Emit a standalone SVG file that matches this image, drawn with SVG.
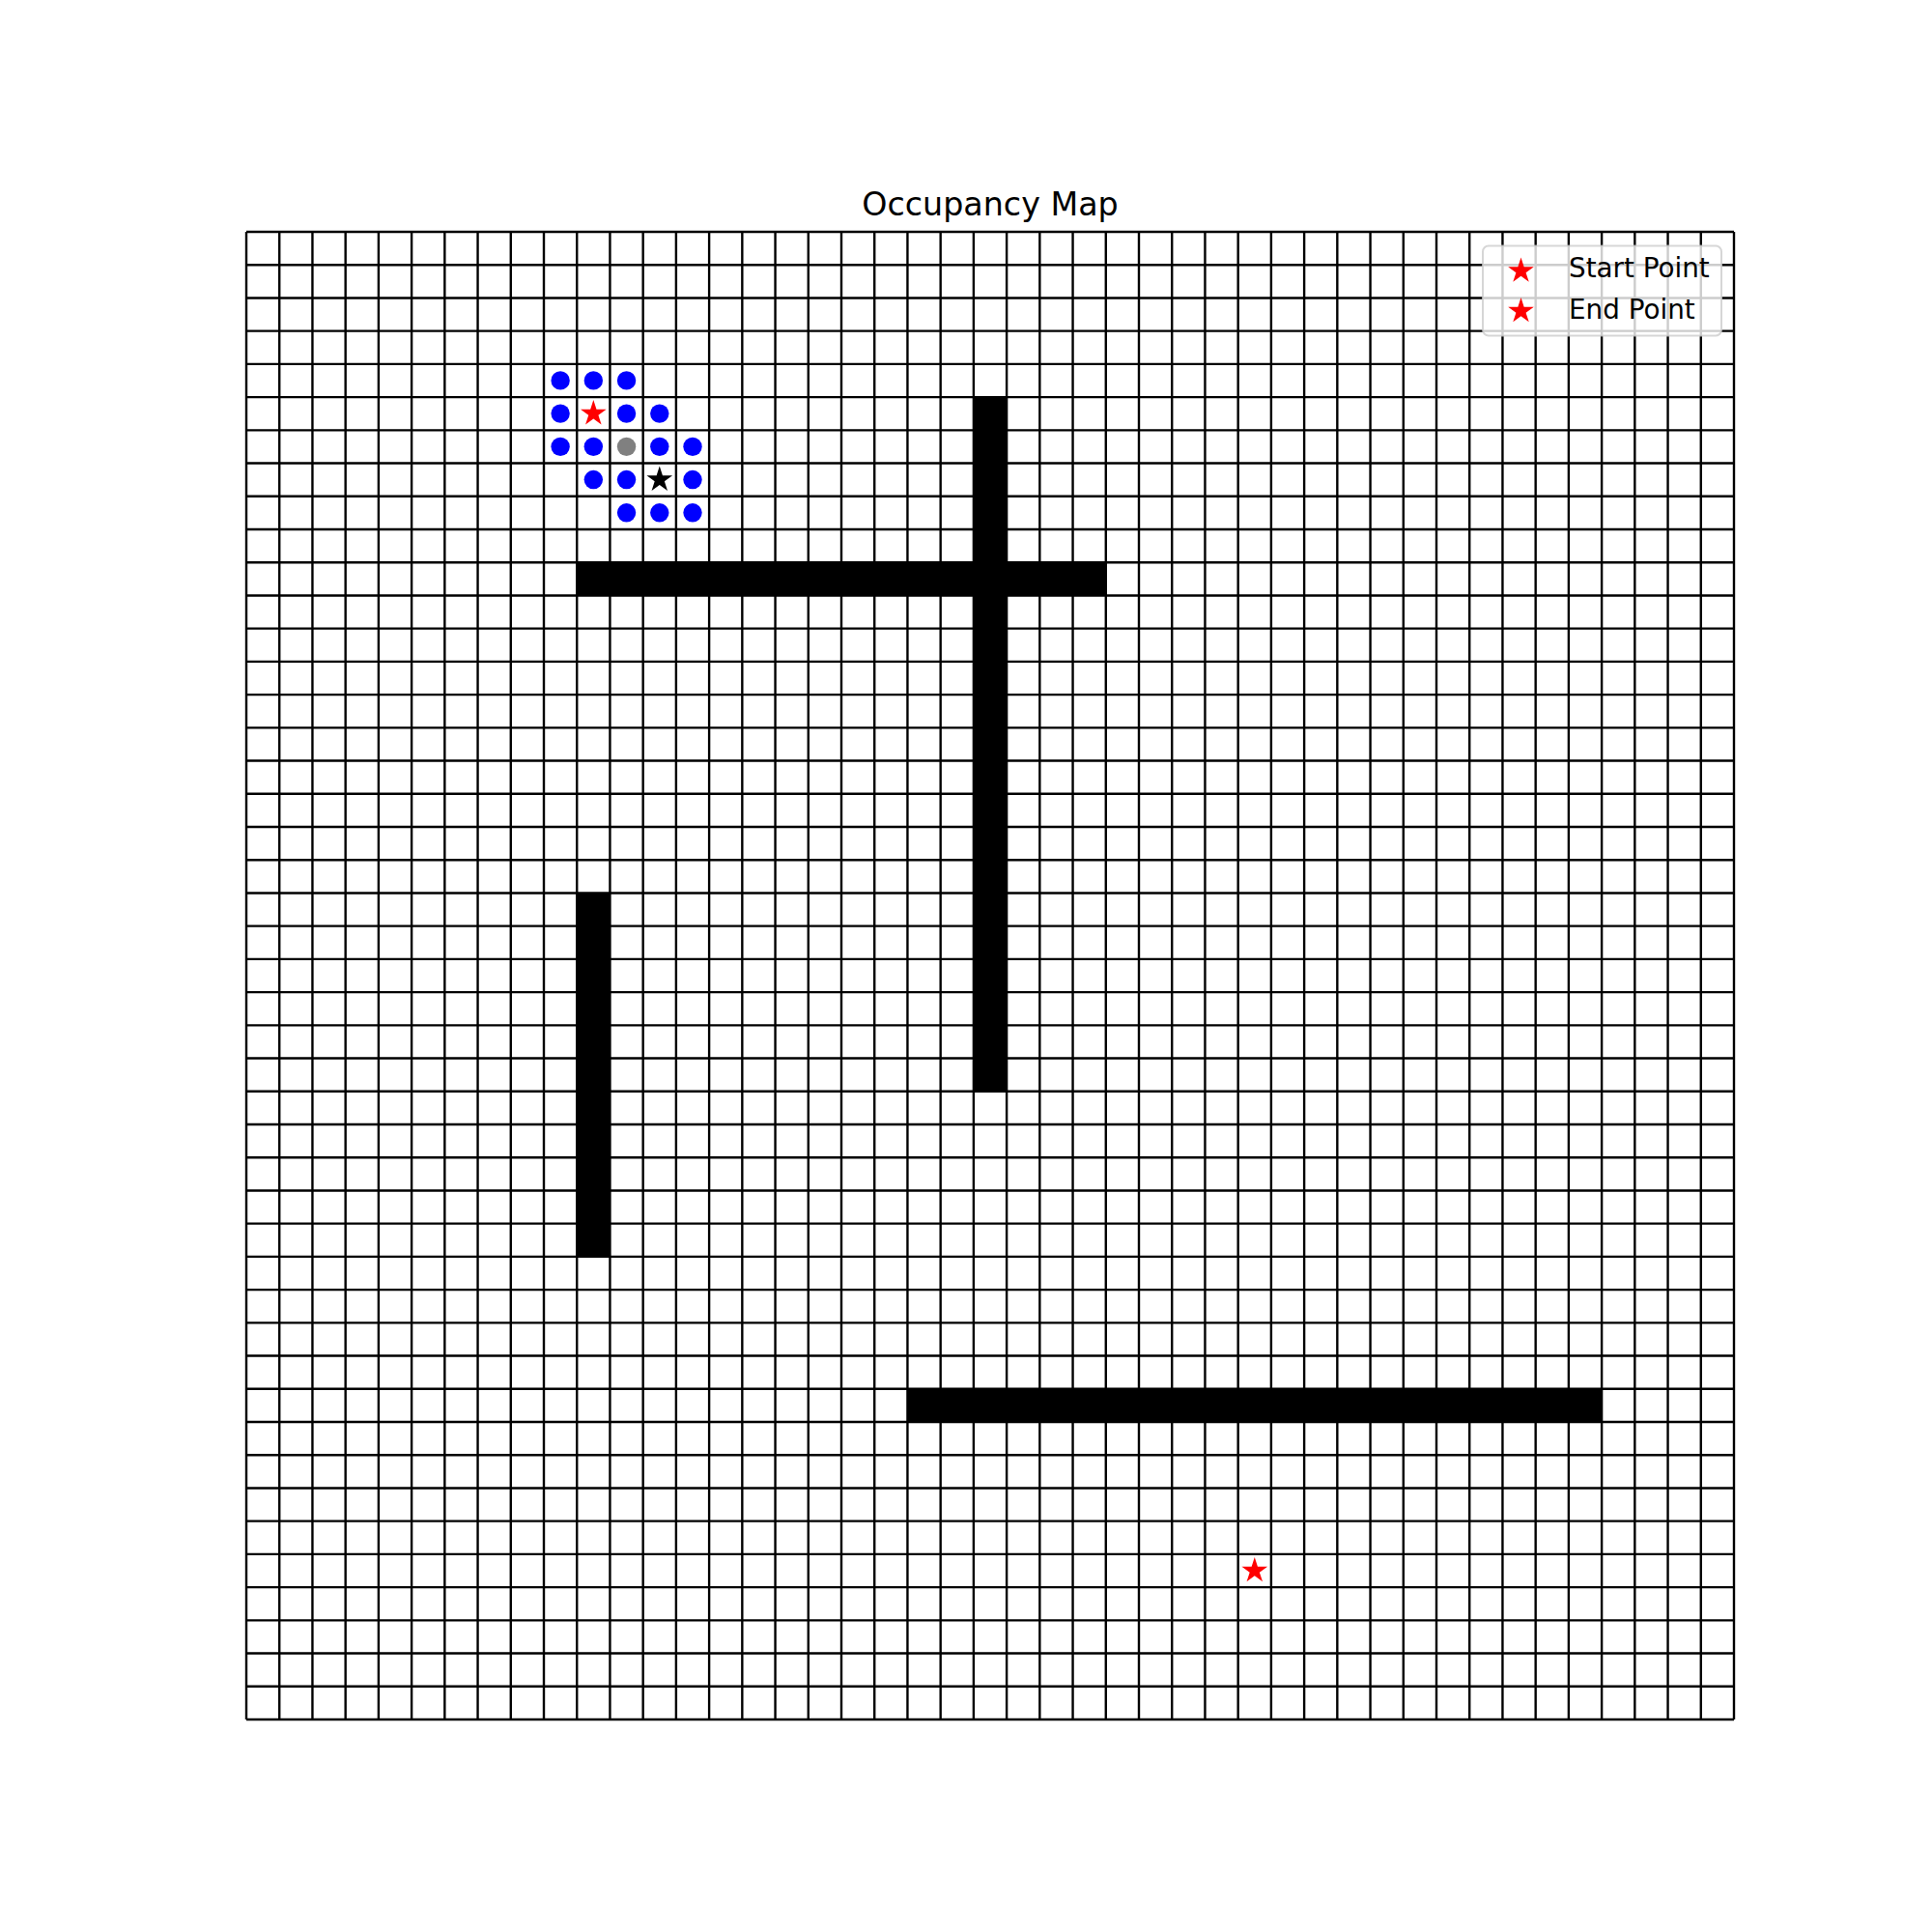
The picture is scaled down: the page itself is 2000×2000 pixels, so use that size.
<svg xmlns="http://www.w3.org/2000/svg" xmlns:xlink="http://www.w3.org/1999/xlink" width="2000" height="2000" viewBox="0 0 2000 2000">
<style>
.grid line{stroke:#000;stroke-width:2.4;vector-effect:non-scaling-stroke}
.obs{fill:#000}
.dot{fill:#0000ff}
.title{font-family:"DejaVu Sans",sans-serif;font-size:33.3px;fill:#000;text-anchor:middle}
.leg{font-family:"DejaVu Sans",sans-serif;font-size:27.8px;fill:#000}
</style>
<defs>
<path id="star" d="M0,-14 L3.143,-4.326 L13.315,-4.326 L5.086,1.653 L8.229,11.326 L0,5.348 L-8.229,11.326 L-5.086,1.653 L-13.315,-4.326 L-3.143,-4.326 Z"/>
</defs>
<rect width="2000" height="2000" fill="#fff"/>
<g id="map" transform="translate(255,240) scale(34.2222)">
<g id="obstacles">
<rect class="obs" x="10" y="10" width="16" height="1"/>
<rect class="obs" x="22" y="5" width="1" height="21"/>
<rect class="obs" x="10" y="20" width="1" height="11"/>
<rect class="obs" x="20" y="35" width="21" height="1"/>
</g>
<g class="grid" id="grid">
<line x1="0" y1="0" x2="0" y2="45"/><line x1="1" y1="0" x2="1" y2="45"/><line x1="2" y1="0" x2="2" y2="45"/><line x1="3" y1="0" x2="3" y2="45"/><line x1="4" y1="0" x2="4" y2="45"/><line x1="5" y1="0" x2="5" y2="45"/><line x1="6" y1="0" x2="6" y2="45"/><line x1="7" y1="0" x2="7" y2="45"/><line x1="8" y1="0" x2="8" y2="45"/><line x1="9" y1="0" x2="9" y2="45"/>
<line x1="10" y1="0" x2="10" y2="45"/><line x1="11" y1="0" x2="11" y2="45"/><line x1="12" y1="0" x2="12" y2="45"/><line x1="13" y1="0" x2="13" y2="45"/><line x1="14" y1="0" x2="14" y2="45"/><line x1="15" y1="0" x2="15" y2="45"/><line x1="16" y1="0" x2="16" y2="45"/><line x1="17" y1="0" x2="17" y2="45"/><line x1="18" y1="0" x2="18" y2="45"/><line x1="19" y1="0" x2="19" y2="45"/>
<line x1="20" y1="0" x2="20" y2="45"/><line x1="21" y1="0" x2="21" y2="45"/><line x1="22" y1="0" x2="22" y2="45"/><line x1="23" y1="0" x2="23" y2="45"/><line x1="24" y1="0" x2="24" y2="45"/><line x1="25" y1="0" x2="25" y2="45"/><line x1="26" y1="0" x2="26" y2="45"/><line x1="27" y1="0" x2="27" y2="45"/><line x1="28" y1="0" x2="28" y2="45"/><line x1="29" y1="0" x2="29" y2="45"/>
<line x1="30" y1="0" x2="30" y2="45"/><line x1="31" y1="0" x2="31" y2="45"/><line x1="32" y1="0" x2="32" y2="45"/><line x1="33" y1="0" x2="33" y2="45"/><line x1="34" y1="0" x2="34" y2="45"/><line x1="35" y1="0" x2="35" y2="45"/><line x1="36" y1="0" x2="36" y2="45"/><line x1="37" y1="0" x2="37" y2="45"/><line x1="38" y1="0" x2="38" y2="45"/><line x1="39" y1="0" x2="39" y2="45"/>
<line x1="40" y1="0" x2="40" y2="45"/><line x1="41" y1="0" x2="41" y2="45"/><line x1="42" y1="0" x2="42" y2="45"/><line x1="43" y1="0" x2="43" y2="45"/><line x1="44" y1="0" x2="44" y2="45"/><line x1="45" y1="0" x2="45" y2="45"/>
<line y1="0" x1="0" y2="0" x2="45"/><line y1="1" x1="0" y2="1" x2="45"/><line y1="2" x1="0" y2="2" x2="45"/><line y1="3" x1="0" y2="3" x2="45"/><line y1="4" x1="0" y2="4" x2="45"/><line y1="5" x1="0" y2="5" x2="45"/><line y1="6" x1="0" y2="6" x2="45"/><line y1="7" x1="0" y2="7" x2="45"/><line y1="8" x1="0" y2="8" x2="45"/><line y1="9" x1="0" y2="9" x2="45"/>
<line y1="10" x1="0" y2="10" x2="45"/><line y1="11" x1="0" y2="11" x2="45"/><line y1="12" x1="0" y2="12" x2="45"/><line y1="13" x1="0" y2="13" x2="45"/><line y1="14" x1="0" y2="14" x2="45"/><line y1="15" x1="0" y2="15" x2="45"/><line y1="16" x1="0" y2="16" x2="45"/><line y1="17" x1="0" y2="17" x2="45"/><line y1="18" x1="0" y2="18" x2="45"/><line y1="19" x1="0" y2="19" x2="45"/>
<line y1="20" x1="0" y2="20" x2="45"/><line y1="21" x1="0" y2="21" x2="45"/><line y1="22" x1="0" y2="22" x2="45"/><line y1="23" x1="0" y2="23" x2="45"/><line y1="24" x1="0" y2="24" x2="45"/><line y1="25" x1="0" y2="25" x2="45"/><line y1="26" x1="0" y2="26" x2="45"/><line y1="27" x1="0" y2="27" x2="45"/><line y1="28" x1="0" y2="28" x2="45"/><line y1="29" x1="0" y2="29" x2="45"/>
<line y1="30" x1="0" y2="30" x2="45"/><line y1="31" x1="0" y2="31" x2="45"/><line y1="32" x1="0" y2="32" x2="45"/><line y1="33" x1="0" y2="33" x2="45"/><line y1="34" x1="0" y2="34" x2="45"/><line y1="35" x1="0" y2="35" x2="45"/><line y1="36" x1="0" y2="36" x2="45"/><line y1="37" x1="0" y2="37" x2="45"/><line y1="38" x1="0" y2="38" x2="45"/><line y1="39" x1="0" y2="39" x2="45"/>
<line y1="40" x1="0" y2="40" x2="45"/><line y1="41" x1="0" y2="41" x2="45"/><line y1="42" x1="0" y2="42" x2="45"/><line y1="43" x1="0" y2="43" x2="45"/><line y1="44" x1="0" y2="44" x2="45"/><line y1="45" x1="0" y2="45" x2="45"/>
</g>
</g>
<g id="visited">
<circle class="dot" cx="580.11" cy="393.89" r="9.7"/><circle class="dot" cx="614.33" cy="393.89" r="9.7"/><circle class="dot" cx="648.56" cy="393.89" r="9.7"/>
<circle class="dot" cx="580.11" cy="428.11" r="9.7"/><circle class="dot" cx="648.56" cy="428.11" r="9.7"/><circle class="dot" cx="682.78" cy="428.11" r="9.7"/>
<circle class="dot" cx="580.11" cy="462.33" r="9.7"/><circle class="dot" cx="614.33" cy="462.33" r="9.7"/><circle cx="648.56" cy="462.33" r="9.7" fill="#808080"/><circle class="dot" cx="682.78" cy="462.33" r="9.7"/><circle class="dot" cx="717" cy="462.33" r="9.7"/>
<circle class="dot" cx="614.33" cy="496.56" r="9.7"/><circle class="dot" cx="648.56" cy="496.56" r="9.7"/><circle class="dot" cx="717" cy="496.56" r="9.7"/>
<circle class="dot" cx="648.56" cy="530.78" r="9.7"/><circle class="dot" cx="682.78" cy="530.78" r="9.7"/><circle class="dot" cx="717" cy="530.78" r="9.7"/>
</g>
<g id="start-point"><use xlink:href="#star" href="#star" x="614.33" y="428.11" fill="#ff0000"/></g>
<g id="current-point"><use xlink:href="#star" href="#star" x="682.78" y="496.56" fill="#000"/></g>
<g id="end-point"><use xlink:href="#star" href="#star" x="1298.78" y="1626" fill="#ff0000"/></g>
<text class="title" x="1025" y="223">Occupancy Map</text>
<g id="legend">
<rect x="1535" y="254.5" width="247" height="93" rx="6" ry="6" fill="#fff" fill-opacity="0.8" stroke="#cccccc" stroke-opacity="0.8" stroke-width="2"/>
<use xlink:href="#star" href="#star" x="1574.5" y="280.5" fill="#ff0000"/>
<use xlink:href="#star" href="#star" x="1574.5" y="322" fill="#ff0000"/>
<text class="leg" x="1624" y="287">Start Point</text>
<text class="leg" x="1624" y="329.5">End Point</text>
</g>
</svg>
